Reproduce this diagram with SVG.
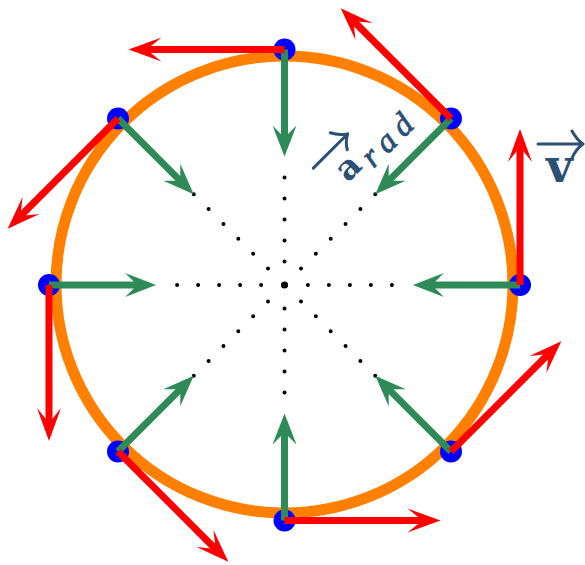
<svg xmlns="http://www.w3.org/2000/svg" width="585" height="565" viewBox="0 0 585 565">
<style>
.ring{fill:none;stroke:#ff8000;stroke-width:11}
.dots line{stroke:#000;stroke-width:4;stroke-linecap:round;stroke-dasharray:0 21}
.pt{fill:#0000ff}
.acc line{stroke:#2e8b57;stroke-width:7;marker-end:url(#gh)}
.vel line{stroke:#ff0000;stroke-width:7;marker-end:url(#rh)}
.lbl{fill:#2b4f75}
.sub{fill:#2b4f75;stroke:#2b4f75;stroke-width:0.8}
.vec{fill:none;stroke:#2b4f75;stroke-width:3;stroke-linecap:round;stroke-linejoin:round}
</style>
<defs>
<marker id="gh" markerUnits="userSpaceOnUse" viewBox="-34 -14 36 28" markerWidth="36" markerHeight="28" refX="-16" refY="0" orient="auto" overflow="visible">
<path d="M0,0 L-31,-12 L-19,0 L-31,12 Z" fill="#2e8b57"/>
</marker>
<marker id="rh" markerUnits="userSpaceOnUse" viewBox="-34 -14 36 28" markerWidth="36" markerHeight="28" refX="-16" refY="0" orient="auto" overflow="visible">
<path d="M0,0 L-33,-12 L-18,0 L-33,12 Z" fill="#ff0000"/>
</marker>
</defs>
<rect width="585" height="565" fill="#fff"/>
<circle class="ring" cx="284.5" cy="284.5" r="228.5"/>
<g class="dots">
<line x1="284.5" y1="261.6" x2="284.5" y2="156.6"/>
<line x1="301" y1="268.5" x2="375.3" y2="194.2"/>
<line x1="307.9" y1="285" x2="412.9" y2="285"/>
<line x1="301" y1="301.5" x2="375.3" y2="375.8"/>
<line x1="284.5" y1="308.4" x2="284.5" y2="413.4"/>
<line x1="268" y1="301.5" x2="193.7" y2="375.8"/>
<line x1="261.1" y1="285" x2="156.1" y2="285"/>
<line x1="268" y1="268.5" x2="193.7" y2="194.2"/>
<circle cx="284.5" cy="285" r="3.6" fill="#000"/>
</g>
<g id="p-top"><circle class="pt" cx="284.5" cy="49.5" r="11"/></g>
<g id="p-upper-right"><circle class="pt" cx="451" cy="118.5" r="11"/></g>
<g id="p-right"><circle class="pt" cx="520" cy="285" r="11"/></g>
<g id="p-lower-right"><circle class="pt" cx="451" cy="451.5" r="11"/></g>
<g id="p-bottom"><circle class="pt" cx="284.5" cy="520.5" r="11"/></g>
<g id="p-lower-left"><circle class="pt" cx="118" cy="451.5" r="11"/></g>
<g id="p-left"><circle class="pt" cx="49" cy="285" r="11"/></g>
<g id="p-upper-left"><circle class="pt" cx="118" cy="118.5" r="11"/></g>
<g id="connectors">
<g class="acc">
<line x1="284.5" y1="49.5" x2="284.5" y2="140.6"/>
<line x1="451" y1="118.5" x2="386.6" y2="182.9"/>
<line x1="520" y1="285" x2="428.9" y2="285"/>
<line x1="451" y1="451.5" x2="386.6" y2="387.1"/>
<line x1="284.5" y1="520.5" x2="284.5" y2="429.4"/>
<line x1="118" y1="451.5" x2="182.4" y2="387.1"/>
<line x1="49" y1="285" x2="140.1" y2="285"/>
<line x1="118" y1="118.5" x2="182.4" y2="182.9"/>
</g>
<g class="vel">
<line x1="284.5" y1="49.5" x2="144.5" y2="49.5"/>
<line x1="451" y1="118.5" x2="352" y2="19.5"/>
<line x1="520" y1="285" x2="520" y2="145"/>
<line x1="451" y1="451.5" x2="550" y2="352.5"/>
<line x1="284.5" y1="520.5" x2="424.5" y2="520.5"/>
<line x1="118" y1="451.5" x2="217" y2="550.5"/>
<line x1="49" y1="285" x2="49" y2="425"/>
<line x1="118" y1="118.5" x2="19" y2="217.5"/>
</g>
</g>
<g id="label-arad" transform="translate(348,183) rotate(-45)">
<text class="lbl" x="0" y="0" font-family="DejaVu Serif, serif" font-weight="bold" font-size="34">a</text>
<text class="sub" x="28" y="8" font-family="Liberation Serif, serif" font-style="italic" font-size="33" letter-spacing="7">rad</text>
<path class="vec" d="M-14,-35 L34,-35 M23,-48 Q27,-40 34.5,-35 Q27,-31 23,-24"/>
</g>
<g id="label-v">
<text class="lbl" x="546" y="182" font-family="DejaVu Serif, serif" font-weight="bold" font-size="46">v</text>
<path class="vec" d="M538,144 L582,144 M572,131 Q577,140 583,144 Q576,149 572,158"/>
</g>
</svg>
